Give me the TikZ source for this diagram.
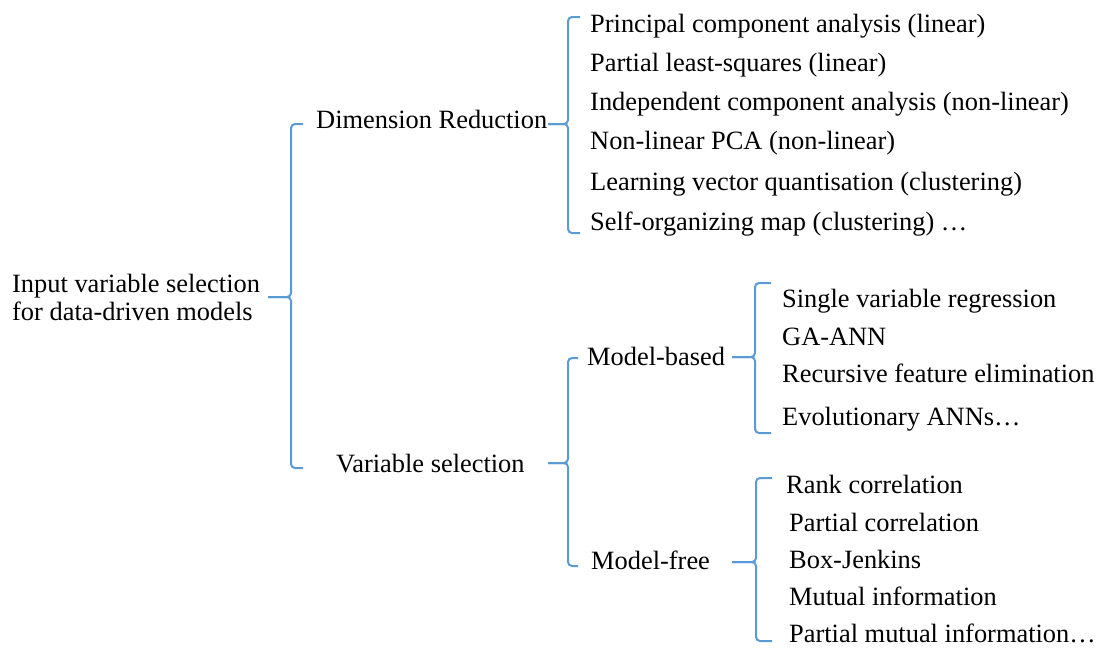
\documentclass[tikz,border=0pt]{standalone}
\usepackage{fontspec}
\setmainfont{Liberation Serif}
\definecolor{bracecol}{HTML}{5B9BD5}
\tikzset{
  brace/.style={draw=bracecol, line width=2pt, rounded corners=4pt},
  lbl/.style={anchor=base west, inner sep=0pt,
              font=\fontsize{26.4}{28}\selectfont},
}
% left brace for node #1: #2 spine x, #3 top y, #4 bottom y, #5 tick y,
% #6 tick end x, #7 arm end x
\newcommand\bracket[7]{%
  \coordinate (#1-top) at (#7,#3);
  \coordinate (#1-bot) at (#7,#4);
  \coordinate (#1-mid) at (#2,#5);
  \coordinate (#1-tick) at (#6,#5);
  \draw[brace] (#1-top) -| (#1-mid) -- (#1-tick);
  \draw[brace] (#1-bot) -| (#1-mid) -- (#1-tick);
}
\begin{document}
\begin{tikzpicture}[x=1pt, y=-1pt]
\useasboundingbox (0,0) rectangle (1107,648);

% root (base anchor sits on the last line)
\node[lbl, align=left] (root) at (12,320)
  {Input variable selection\\for data-driven models};

% first level
\node[lbl] (dim) at (316,128) {Dimension Reduction};
\node[lbl] (var) at (336,472) {Variable selection};

% dimension reduction methods
\node[lbl] (d1) at (590,32)  {Principal component analysis (linear)};
\node[lbl] (d2) at (590,71)  {Partial least-squares (linear)};
\node[lbl] (d3) at (590,110) {Independent component analysis (non-linear)};
\node[lbl] (d4) at (590,149) {Non-linear PCA (non-linear)};
\node[lbl] (d5) at (590,190) {Learning vector quantisation (clustering)};
\node[lbl] (d6) at (590,230) {Self-organizing map (clustering) …};

% variable selection branches
\node[lbl] (mb) at (587,365) {Model-based};
\node[lbl] (mf) at (591,569) {Model-free};

% model-based methods
\node[lbl] (b1) at (782,307) {Single variable regression};
\node[lbl] (b2) at (782,345) {GA-ANN};
\node[lbl] (b3) at (782,382) {Recursive feature elimination};
\node[lbl] (b4) at (782,425) {Evolutionary ANNs…};

% model-free methods
\node[lbl] (f1) at (786,493) {Rank correlation};
\node[lbl] (f2) at (789,531) {Partial correlation};
\node[lbl] (f3) at (789,568) {Box-Jenkins};
\node[lbl] (f4) at (789,605) {Mutual information};
\node[lbl] (f5) at (789,642) {Partial mutual information…};

% braces
\bracket{root}{291}{124}{468}{297}{268}{303}
\bracket{dim}{568}{17}{233}{124}{548}{580}
\bracket{var}{568}{358}{566}{463}{548}{578}
\bracket{mb}{755}{283}{433}{357}{732}{771}
\bracket{mf}{756}{478}{641}{562}{732}{772}
\end{tikzpicture}
\end{document}
